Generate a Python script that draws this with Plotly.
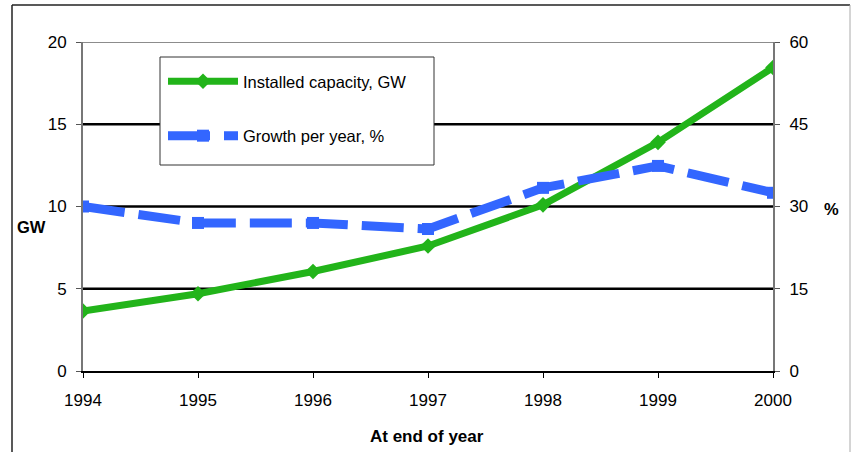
import plotly.graph_objects as go

years = [1994, 1995, 1996, 1997, 1998, 1999, 2000]
capacity_gw = [3.65, 4.7, 6.05, 7.6, 10.1, 13.9, 18.45]
growth_pct = [30.0, 27.0, 27.0, 25.9, 33.4, 37.4, 32.5]

green = "#22b41a"
blue = "#3366ff"
font_family = "Liberation Sans, Arial, sans-serif"

fig = go.Figure()
fig.add_trace(go.Scatter(
    x=years, y=capacity_gw, name="Installed capacity, GW",
    mode="lines+markers", legendgroup="a",
    line=dict(color=green, width=7),
    marker=dict(symbol="diamond", size=12, color=green),
    yaxis="y"))
fig.add_trace(go.Scatter(
    x=years, y=growth_pct, name="Growth per year, %",
    mode="lines+markers", legendgroup="b",
    line=dict(color=blue, width=9, dash="42px,14px"),
    marker=dict(symbol="square", size=12, color=blue),
    yaxis="y2"))

W, H = 852, 452
L, R, T, B = 83, 773, 42, 371
pw, ph = R - L, B - T
def px(xp):
    return (xp - L) / pw
def py(yp):
    return (B - yp) / ph

shapes = []
for g in [5, 10, 15]:
    shapes.append(dict(type="line", xref="paper", yref="y", x0=0, x1=1, y0=g, y1=g,
                       line=dict(color="black", width=2.5), layer="below"))
shapes.append(dict(type="line", xref="paper", yref="y", x0=0, x1=1, y0=20, y1=20,
                   line=dict(color="#666666", width=1.5), layer="below"))
# legend box
shapes.append(dict(type="rect", xref="paper", yref="paper", x0=px(160), x1=px(434), y0=py(165), y1=py(57),
                   line=dict(color="#333333", width=1), fillcolor="white", layer="above"))
# outer frame
shapes.append(dict(type="line", xref="paper", yref="paper", x0=px(12), x1=px(12), y0=py(5), y1=py(460),
                   line=dict(color="#222222", width=1.5)))
shapes.append(dict(type="line", xref="paper", yref="paper", x0=px(12), x1=px(850), y0=py(5), y1=py(5),
                   line=dict(color="#222222", width=1.5)))
shapes.append(dict(type="line", xref="paper", yref="paper", x0=px(850), x1=px(850), y0=py(5), y1=py(460),
                   line=dict(color="#aaaaaa", width=1)))

fig.update_layout(
    width=W, height=H,
    margin=dict(l=L, r=W - R, t=T, b=H - B),
    paper_bgcolor="white", plot_bgcolor="white",
    font=dict(family=font_family, size=17, color="black"),
    showlegend=True,
    legend=dict(x=px(163), y=py(64), xanchor="left", yanchor="top",
                borderwidth=0, bgcolor="rgba(0,0,0,0)",
                font=dict(size=16.5), itemwidth=70, tracegroupgap=30,
                traceorder="grouped"),
    xaxis=dict(range=[1994, 2000], tickvals=years, ticktext=[str(y) for y in years],
               showgrid=False, zeroline=False, showline=True, linecolor="black", linewidth=2,
               ticks="outside", ticklen=5, tickcolor="black", ticklabelstandoff=8),
    yaxis=dict(range=[0, 20], tickvals=[0, 5, 10, 15, 20], showgrid=False, zeroline=False,
               showline=True, linecolor="#777777", linewidth=2,
               ticks="outside", ticklen=5, tickcolor="#555555", ticklabelstandoff=6),
    yaxis2=dict(range=[0, 60], tickvals=[0, 15, 30, 45, 60], overlaying="y", side="right",
                showgrid=False, zeroline=False, showline=True, linecolor="#777777", linewidth=2,
                ticks="outside", ticklen=5, tickcolor="#555555", ticklabelstandoff=6),
    shapes=shapes,
    annotations=[
        dict(text="<b>GW</b>", xref="paper", yref="paper", x=px(31), y=py(227),
             xanchor="center", yanchor="middle", showarrow=False, font=dict(size=16.5)),
        dict(text="<b>%</b>", xref="paper", yref="paper", x=px(831), y=py(209),
             xanchor="center", yanchor="middle", showarrow=False, font=dict(size=16.5)),
        dict(text="<b>At end of year</b>", xref="paper", yref="paper", x=px(427), y=py(436),
             xanchor="center", yanchor="middle", showarrow=False, font=dict(size=17)),
    ],
)

fig.write_html("out.html", config={"displayModeBar": False},
               post_script="document.body.style.margin='0';")
